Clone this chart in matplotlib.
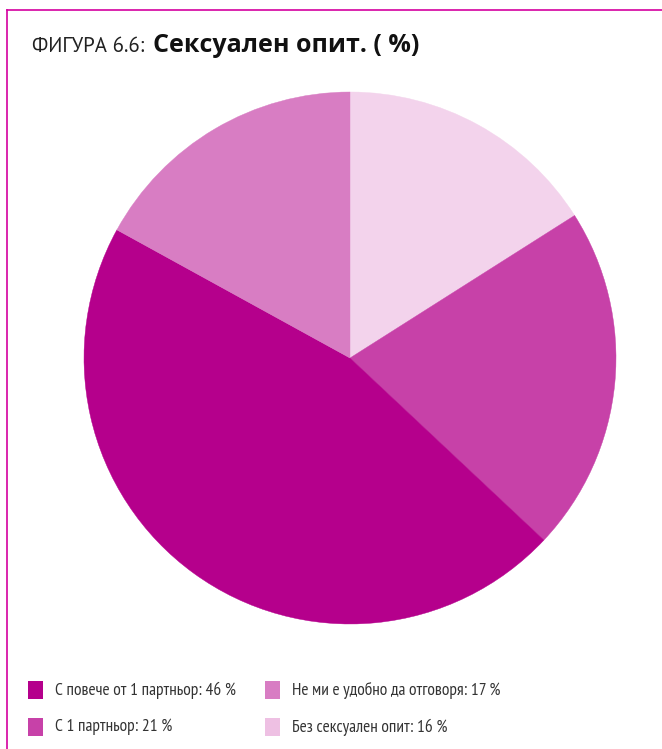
import matplotlib
matplotlib.use("Agg")
import matplotlib.pyplot as plt
from matplotlib.patches import Rectangle
from matplotlib.lines import Line2D

FAM = ['PT Sans', 'Fira Sans', 'Open Sans', 'DejaVu Sans']
NARROW = ['PT Sans Narrow'] + FAM
plt.rcParams['font.family'] = FAM

labels = ["Без сексуален опит", "С 1 партньор", "С повече от 1 партньор", "Не ми е удобно да отговоря"]
values = [16, 21, 46, 17]
colors = ["#F3D3EC", "#C741A8", "#B5008C", "#D87DC3"]
legend_colors = ["#EEC0E3", "#C741A8", "#B5008C", "#D87DC3"]

W, H = 662, 749
fig = plt.figure(figsize=(W / 100, H / 100), dpi=100)
fig.patch.set_facecolor("white")

# frame lines
frame_color = "#D400A0"
fig.add_artist(Line2D([7 / W, 1], [1 - 10 / H, 1 - 10 / H], color=frame_color, lw=1.2))
fig.add_artist(Line2D([7 / W, 7 / W], [0, 1 - 10 / H], color=frame_color, lw=1.2))

# title
fig.text(32 / W, 1 - 47 / H, "ФИГУРА 6.6:", fontsize=15, fontweight='normal', color="#222222",
         va='center', ha='left')
fig.text(153 / W, 1 - 46 / H, "Сексуален опит. ( %)", fontsize=18, fontweight='bold', color="#111111",
         va='center', ha='left', family=['Open Sans', 'DejaVu Sans'])

# pie
cx, cy, r = 350, 358, 266
ax = fig.add_axes([(cx - r) / W, 1 - (cy + r) / H, 2 * r / W, 2 * r / H])
wedges, _ = ax.pie(values, colors=colors, startangle=90, counterclock=False,
                   wedgeprops=dict(linewidth=0.3))
for w, c in zip(wedges, colors):
    w.set_edgecolor(c)
ax.set_aspect('equal')
ax.set_xlim(-1, 1)
ax.set_ylim(-1, 1)
ax.axis('off')

# legend
entries = [
    (28, 690, 2, "С повече от 1 партньор: 46 %"),
    (28, 727, 1, "С 1 партньор: 21 %"),
    (265, 690, 3, "Не ми е удобно да отговоря: 17 %"),
    (265, 727, 0, "Без сексуален опит: 16 %"),
]
for x, y, idx, txt in entries:
    fig.add_artist(Rectangle((x / W, 1 - (y + 9) / H), 15 / W, 18 / H,
                             transform=fig.transFigure, facecolor=legend_colors[idx], edgecolor='none'))
    fig.text((x + 27) / W, 1 - y / H, txt, fontsize=12.5, color="#333333", va='center', ha='left',
             family=NARROW)

fig.savefig("out.png", dpi=100, facecolor="white")
